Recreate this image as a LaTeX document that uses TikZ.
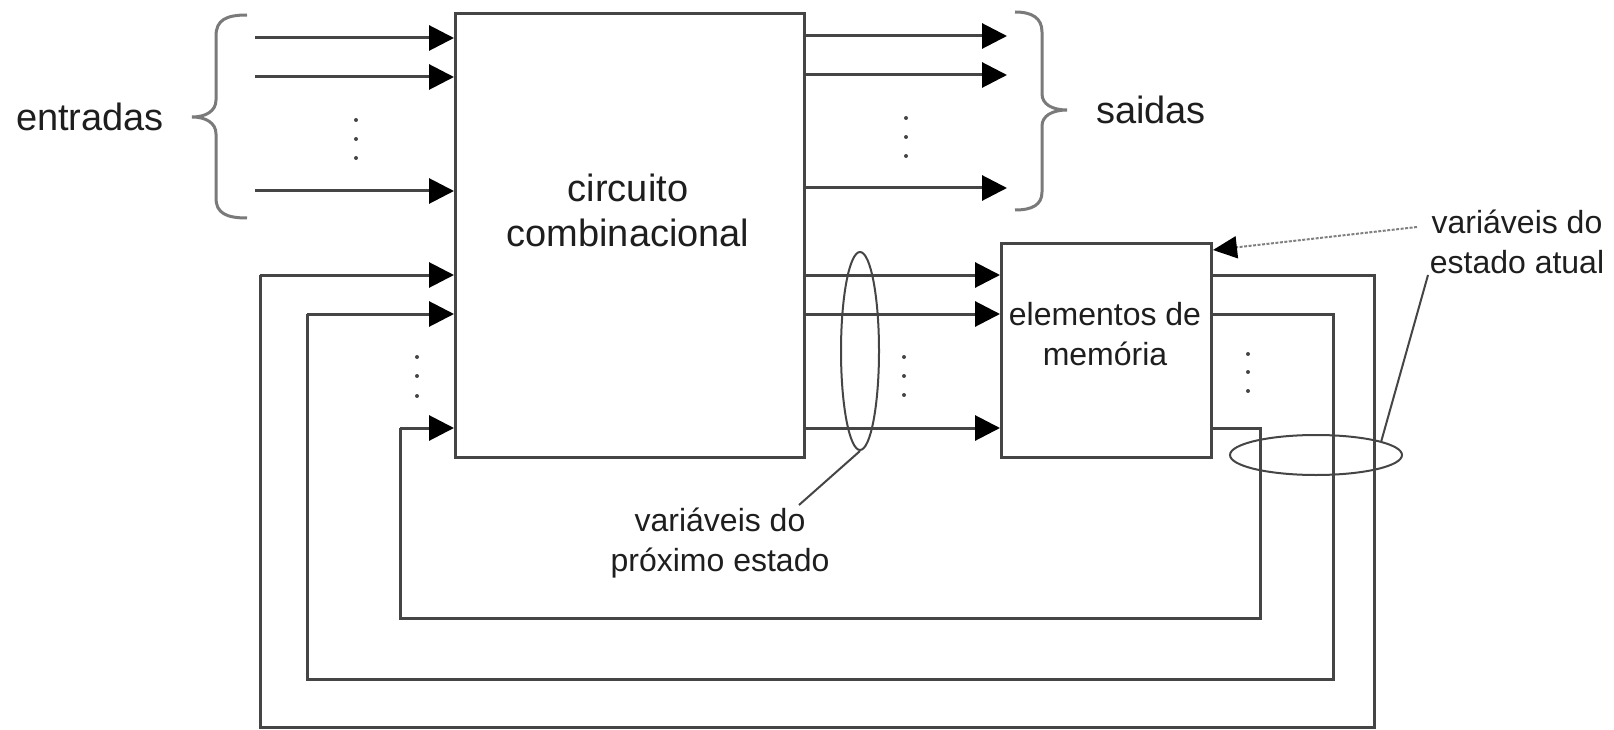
\documentclass[tikz,border=0pt]{standalone}
\usepackage{fontspec}
\setmainfont{Liberation Sans}
\usetikzlibrary{arrows.meta,shapes.geometric}
\definecolor{linec}{HTML}{454545}
\definecolor{bracec}{HTML}{7A7A7A}
\definecolor{txtc}{HTML}{1E1E1E}
\begin{document}
\begin{tikzpicture}[x=1pt,y=-1pt,
  wire/.style={draw=linec, line width=3pt},
  arr/.style={wire, -{Triangle[length=25pt,width=25pt,color=black,fill=black]}},
  blockbox/.style={draw=linec, line width=3pt, inner sep=0pt, anchor=north west},
  bracestyle/.style={draw=bracec, line width=3pt},
  dotmark/.style={fill=linec, draw=none},
  ringstyle/.style={draw=linec, line width=2pt, ellipse, inner sep=0pt},
  bigtxt/.style={text=txtc, font=\fontsize{38}{45}\selectfont, align=center, inner sep=0pt},
  smalltxt/.style={text=txtc, font=\fontsize{32}{40}\selectfont, align=center, inner sep=0pt}
]
\useasboundingbox (0,0) rectangle (1614,730);

% blocks
\node[blockbox, minimum width=349pt, minimum height=444pt] (comb) at (454,12) {};
\node[blockbox, minimum width=210pt, minimum height=214pt] (mem) at (1000,242) {};
\node[bigtxt] (combtxt) at (628,210) {circuito\\combinacional};
\node[smalltxt] (memtxt) at (1105,334) {elementos de\\memória};

% inputs
\coordinate (in1) at (255,38);
\coordinate (in2) at (255,77);
\coordinate (in3) at (255,191);
\draw[arr] (in1) -- (comb.west |- in1);
\draw[arr] (in2) -- (comb.west |- in2);
\draw[arr] (in3) -- (comb.west |- in3);
\foreach \yy in {120,139,158} \fill[dotmark] (356,\yy) circle (2pt);

% outputs
\coordinate (out1) at (1007,36);
\coordinate (out2) at (1007,75);
\coordinate (out3) at (1007,188);
\draw[arr] (comb.east |- out1) -- (out1);
\draw[arr] (comb.east |- out2) -- (out2);
\draw[arr] (comb.east |- out3) -- (out3);
\foreach \yy in {118,137,156} \fill[dotmark] (906,\yy) circle (2pt);

% braces and labels
\draw[bracestyle] (247,15) .. controls (226,15) and (216,20) .. (216,36) -- (216,100)
  .. controls (216,111) and (206,117) .. (192,117)
  .. controls (206,117) and (216,123) .. (216,134) -- (216,198)
  .. controls (216,213) and (226,218) .. (247,218);
\node[bigtxt] (entradas) at (90,117) {entradas};
\draw[bracestyle] (1015,12) .. controls (1032,12) and (1042,18) .. (1042,32) -- (1042,94)
  .. controls (1042,104) and (1052,110) .. (1067,110)
  .. controls (1052,110) and (1042,116) .. (1042,126) -- (1042,192)
  .. controls (1042,205) and (1032,210) .. (1015,210);
\node[bigtxt] (saidas) at (1151,110) {saidas};

% next state lines
\coordinate (ns1) at (0,275);
\coordinate (ns2) at (0,314);
\coordinate (ns3) at (0,428);
\draw[arr] (comb.east |- ns1) -- (mem.west |- ns1);
\draw[arr] (comb.east |- ns2) -- (mem.west |- ns2);
\draw[arr] (comb.east |- ns3) -- (mem.west |- ns3);
\foreach \yy in {357,376,395} \fill[dotmark] (904,\yy) circle (2pt);
\foreach \yy in {354,372,391} \fill[dotmark] (1248,\yy) circle (2pt);
\foreach \yy in {357,376,396} \fill[dotmark] (417,\yy) circle (2pt);

% feedback loops
\draw[wire] (mem.east |- ns1) -- (1374,275) -- (1374,727) -- (260,727) -- (260,275);
\draw[arr] (260,275) -- (comb.west |- ns1);
\draw[wire] (mem.east |- ns2) -- (1333,314) -- (1333,679) -- (307,679) -- (307,314);
\draw[arr] (307,314) -- (comb.west |- ns2);
\draw[wire] (mem.east |- ns3) -- (1260,428) -- (1260,618) -- (400,618) -- (400,428);
\draw[arr] (400,428) -- (comb.west |- ns3);

% next-state ellipse and label
\node[ringstyle, minimum width=38pt, minimum height=198pt] (nsring) at (860,351) {};
\node[smalltxt] (nslabel) at (720,543) {variáveis do\\próximo estado};
\coordinate (nsptr) at (799,505);
\draw[draw=linec, line width=2pt] (nsring.south) -- (nsptr);

% current-state ellipse and label
\node[ringstyle, minimum width=172pt, minimum height=40pt] (csring) at (1316,455) {};
\node[smalltxt] (cslabel) at (1517,242) {variáveis do\\estado atual};
\coordinate (csptr) at (1428,275);
\coordinate (csarr) at (1417,227);
\draw[draw=linec, line width=2pt] (csring.12) -- (csptr);
\draw[draw=gray, line width=2pt, dash pattern=on 3pt off 1.5pt, -{Triangle[length=24pt,width=22pt,color=black,fill=black]}] (csarr) -- (mem.north east |- 0,250);

\end{tikzpicture}
\end{document}
